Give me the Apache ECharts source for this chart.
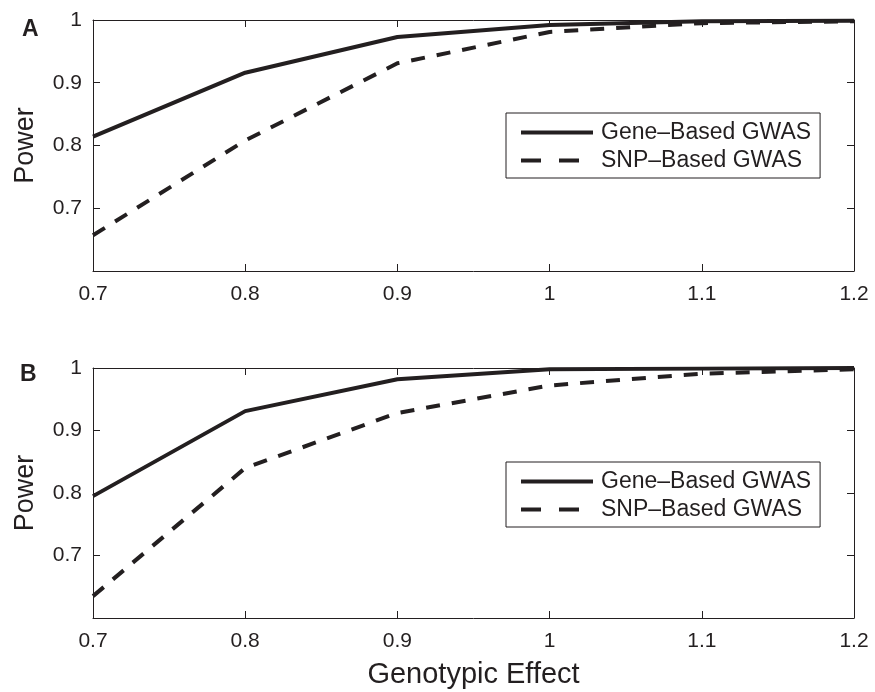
<!DOCTYPE html>
<html>
<head>
<meta charset="utf-8">
<script src="https://cdn.jsdelivr.net/npm/echarts@6/dist/echarts.min.js"></script>
<style>
  html, body { margin: 0; padding: 0; background: #fff; }
  #chart { width: 875px; height: 692px; }
</style>
</head>
<body>
<div id="chart"></div>
<script>
// data
const effects = [0.7, 0.8, 0.9, 1.0, 1.1, 1.2]
const geneA = [0.814, 0.916, 0.973, 0.992, 0.998, 0.999]
const snpA = [0.657, 0.808, 0.931, 0.981, 0.995, 0.998]
const geneB = [0.795, 0.931, 0.982, 0.998, 0.999, 1.0]
const snpB = [0.635, 0.84, 0.928, 0.972, 0.991, 0.998]
const seriesNames = ['Gene–Based GWAS', 'SNP–Based GWAS']

const ink = '#231f20'
const font = 'Liberation Sans, Arial, sans-serif'

const pairs = (ys) => effects.map((x, i) => [x, ys[i]])

// bottom / left axes carry labels, top / right only mirror the ticks
function xAxes(grid, withName) {
  const base = {
    type: 'value', gridIndex: grid, min: 0.7, max: 1.2, interval: 0.1,
    splitLine: { show: false },
    axisLine: { show: true, onZero: false, lineStyle: { color: ink, width: 1 } },
    axisTick: { inside: true, length: 7, lineStyle: { color: ink } }
  }
  return [
    Object.assign({}, base, {
      position: 'bottom',
      axisLabel: { color: ink, fontSize: 21, fontFamily: font, margin: 13 },
      name: withName ? 'Genotypic Effect' : '',
      nameLocation: 'middle',
      nameGap: 42,
      nameTextStyle: { color: ink, fontSize: 29, fontFamily: font }
    }),
    Object.assign({}, base, { position: 'top', axisLabel: { show: false } })
  ]
}

function yAxes(grid) {
  const base = {
    type: 'value', gridIndex: grid, min: 0.6, max: 1, interval: 0.1,
    splitLine: { show: false },
    axisLine: { show: true, onZero: false, lineStyle: { color: ink, width: 1 } },
    axisTick: { inside: true, length: 7, lineStyle: { color: ink } }
  }
  return [
    Object.assign({}, base, {
      position: 'left',
      axisLabel: {
        color: ink, fontSize: 21, fontFamily: font, margin: 11,
        formatter: v => (v < 0.65 ? '' : String(+v.toFixed(1)))
      },
      name: 'Power',
      nameLocation: 'middle',
      nameGap: 54,
      nameTextStyle: { color: ink, fontSize: 27, fontFamily: font }
    }),
    Object.assign({}, base, { position: 'right', axisLabel: { show: false } })
  ]
}

function lines(xi, yi, gene, snp) {
  return [
    {
      name: seriesNames[0], type: 'line', xAxisIndex: xi, yAxisIndex: yi,
      data: pairs(gene), symbol: 'none',
      lineStyle: { color: ink, width: 4 }, itemStyle: { color: ink }
    },
    {
      name: seriesNames[1], type: 'line', xAxisIndex: xi, yAxisIndex: yi,
      data: pairs(snp), symbol: 'none',
      lineStyle: { color: ink, width: 4, type: [14, 12] }, itemStyle: { color: ink }
    }
  ]
}

function legendAt(top) {
  return {
    data: [
      { name: seriesNames[0] },
      { name: seriesNames[1], lineStyle: { color: ink, width: 4, type: [20, 18] } }
    ],
    orient: 'vertical',
    left: 506,
    top: top,
    width: 315,
    itemWidth: 72,
    itemHeight: 14,
    itemGap: 5,
    padding: [8, 9, 6, 13],
    borderColor: ink,
    borderWidth: 1,
    backgroundColor: '#fff',
    selectedMode: false,
    itemStyle: { opacity: 0 },
    lineStyle: { width: 4 },
    textStyle: { color: ink, fontSize: 23, fontFamily: font, padding: [0, 0, 0, 3] }
  }
}

const myChart = echarts.init(document.getElementById('chart'))
const option = {
  animation: false,
  backgroundColor: '#fff',
  title: [
    { text: 'A', left: 17, top: 13, textStyle: { color: ink, fontSize: 23, fontWeight: 'bold', fontFamily: font } },
    { text: 'B', left: 15, top: 358, textStyle: { color: ink, fontSize: 23, fontWeight: 'bold', fontFamily: font } }
  ],
  grid: [
    { left: 93, top: 20, width: 761, height: 251 },
    { left: 93, top: 368, width: 761, height: 250 }
  ],
  xAxis: xAxes(0, false).concat(xAxes(1, true)),
  yAxis: yAxes(0).concat(yAxes(1)),
  legend: [legendAt(113), legendAt(462)],
  series: lines(0, 0, geneA, snpA).concat(lines(2, 2, geneB, snpB))
}
myChart.setOption(option)
window.addEventListener('resize', function() {
  myChart.resize()
})
</script>
</body>
</html>
